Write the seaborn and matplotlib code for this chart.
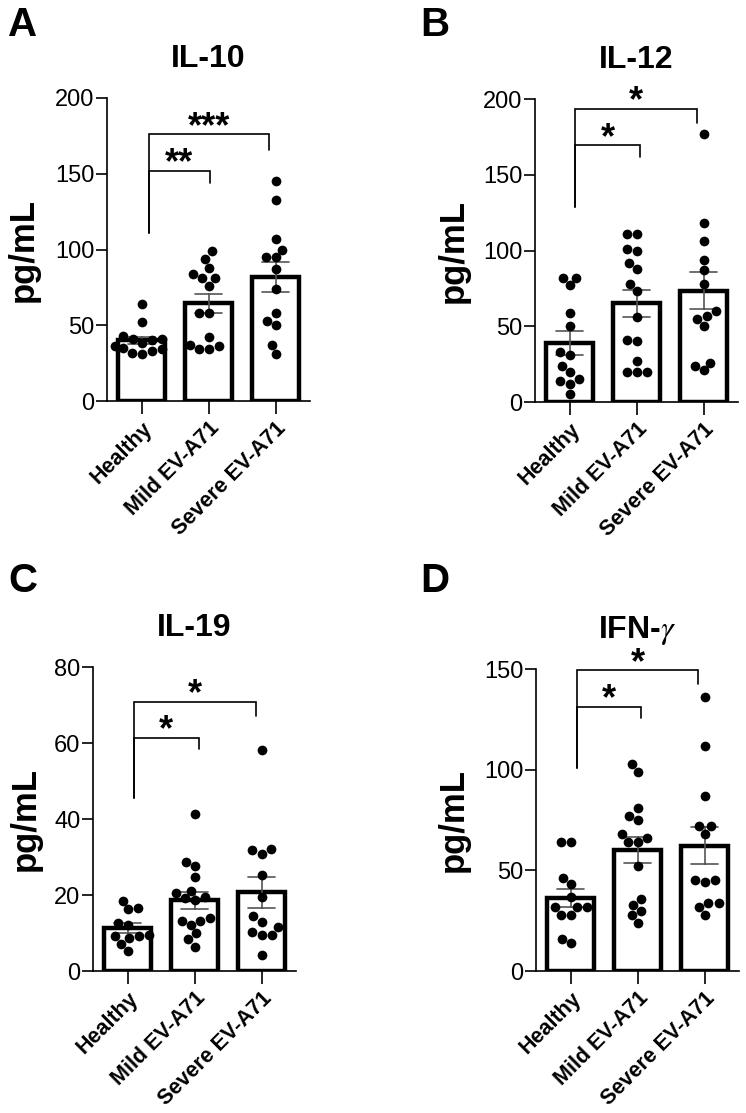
import numpy as np
import pandas as pd
import matplotlib
matplotlib.use("Agg")
import matplotlib.pyplot as plt
import seaborn as sns

# grupos
groups = ["Healthy", "Mild EV-A71", "Severe EV-A71"]

# IL-10 (pg/mL)
il10_healthy = [64, 52, 43, 41, 41, 40, 38, 36, 35, 34, 33, 32, 31]
il10_mild = [94, 99, 88, 84, 81, 81, 76, 58, 58, 42, 36, 34, 34, 37]
il10_severe = [145, 133, 107, 95, 95, 100, 87, 74, 58, 53, 50, 37, 31]

# IL-12
il12_healthy = [82, 77, 82, 59, 50, 33, 31, 24, 20, 15, 14, 12, 5]
il12_mild = [111, 111, 101, 100, 92, 88, 78, 73, 56, 41, 40, 27, 20, 20, 20]
il12_severe = [177, 118, 106, 94, 87, 78, 60, 55, 57, 50, 26, 21, 24]

# IL-19
il19_healthy = [16.7, 16.2, 18.5, 12.7, 8.6, 9.2, 9.2, 9.5, 7.1, 5.3, 12.0]
il19_mild = [41.2, 28.7, 27.6, 24.8, 20.4, 19.1, 18.7, 19.5, 21.1, 13.2, 14.0, 12.1, 13.2, 9.9, 8.3, 6.4]
il19_severe = [58.1, 31.8, 30.9, 32.1, 25.2, 19.5, 14.4, 13.0, 11.5, 9.5, 9.5, 10.3, 4.2]

# IFN-gamma
ifng_healthy = [64, 64, 46, 43, 37, 32, 32, 32, 28, 28, 14, 16]
ifng_mild = [103, 99, 81, 75, 77, 68, 64, 64, 66, 52, 36, 33, 30, 28, 24]
ifng_severe = [136, 112, 87, 72, 72, 68, 45, 44, 45, 34, 34, 32, 28]

# brackets: (x izq, x der, altura, pie izq, pie der, texto)
brk_il10 = [(0.1, 1.02, 152, 111, 144, "**"), (0.1, 1.9, 176, 111, 166, "***")]
brk_il12 = [(0.08, 1.05, 169.5, 129, 162, "*"), (0.08, 1.9, 193.6, 129, 184, "*")]
brk_il19 = [(0.09, 1.06, 61.4, 45.4, 58.3, "*"), (0.09, 1.92, 70.9, 45.4, 67, "*")]
brk_ifng = [(0.09, 1.05, 131.3, 100.7, 125.6, "*"), (0.09, 1.9, 149.5, 100.7, 142.4, "*")]

sns.set_theme(style="ticks")
plt.rcParams["font.family"] = ["Liberation Sans", "DejaVu Sans"]
plt.rcParams["mathtext.fontset"] = "stix"
for k in ["text.color", "axes.labelcolor", "xtick.color", "ytick.color", "axes.edgecolor"]:
    plt.rcParams[k] = "black"

W, H = 746, 1113
fig = plt.figure(figsize=(W / 100, H / 100), dpi=100)


def make_ax(left, top, right, bottom):
    return fig.add_axes([left / W, 1 - bottom / H, (right - left) / W, (bottom - top) / H])


def panel(ax, healthy, mild, severe, title, ymax, ystep, brackets):
    df = pd.DataFrame({
        "group": [groups[0]] * len(healthy) + [groups[1]] * len(mild) + [groups[2]] * len(severe),
        "value": healthy + mild + severe,
    })
    sns.barplot(data=df, x="group", y="value", order=groups, errorbar="se",
                capsize=0.4, width=0.7, color="white", saturation=1,
                edgecolor="black", linewidth=3.2,
                err_kws={"color": "#555555", "linewidth": 1.2}, ax=ax)
    sns.swarmplot(data=df, x="group", y="value", order=groups, color="black",
                  size=7, ax=ax, warn_thresh=1)
    ax.set_xlim(-0.52, 2.51)
    ax.set_ylim(0, ymax)
    ax.set_yticks(np.arange(0, ymax + 1, ystep))
    sns.despine(ax=ax)
    for s in ["left", "bottom"]:
        ax.spines[s].set_linewidth(1.2)
    ax.tick_params(axis="y", length=8, width=1.2, labelsize=17, pad=1)
    ax.tick_params(axis="x", length=9, width=1.2, labelsize=15.5, pad=3)
    ax.set_xticks(range(3))
    ax.set_xticklabels(groups, rotation=45, ha="right", rotation_mode="anchor",
                       va="top", fontweight="bold")
    ax.set_xlabel("")
    ax.set_ylabel("pg/mL", fontsize=25, fontweight="bold")
    ax.set_title(title, fontsize=23, fontweight="bold", pad=22)
    for x1, x2, y, yl, yr, txt in brackets:
        ax.plot([x1, x1, x2, x2], [yl, y, y, yr], color="black", lw=1.2,
                clip_on=False, solid_joinstyle="miter")
        ax.annotate(txt, xy=((x1 + x2) / 2, y), xytext=(0, -2),
                    textcoords="offset points", ha="center", va="baseline",
                    fontsize=26, fontweight="bold", annotation_clip=False)


axA = make_ax(107, 98, 310, 401)
axB = make_ax(535, 99, 738, 402)
axC = make_ax(93, 667, 296, 971)
axD = make_ax(536, 669, 739, 971)

panel(axA, il10_healthy, il10_mild, il10_severe, "IL-10", 200, 50, brk_il10)
panel(axB, il12_healthy, il12_mild, il12_severe, "IL-12", 200, 50, brk_il12)
panel(axC, il19_healthy, il19_mild, il19_severe, "IL-19", 80, 20, brk_il19)
panel(axD, ifng_healthy, ifng_mild, ifng_severe, r"IFN-$\gamma$", 150, 50, brk_ifng)

axA.yaxis.set_label_coords((40 - 107) / 203, 0.5)
axC.yaxis.set_label_coords((42 - 93) / 203, 0.5)
axB.yaxis.set_label_coords((470 - 535) / 203, 0.5)
axD.yaxis.set_label_coords((470 - 536) / 203, 0.5)

for letter, x, y in [("A", 8, 6), ("B", 420, 6), ("C", 8, 562), ("D", 420, 562)]:
    fig.text(x / W, 1 - y / H, letter, fontsize=29, fontweight="bold", va="top", ha="left")

fig.savefig("out.png", dpi=100, facecolor="white")
